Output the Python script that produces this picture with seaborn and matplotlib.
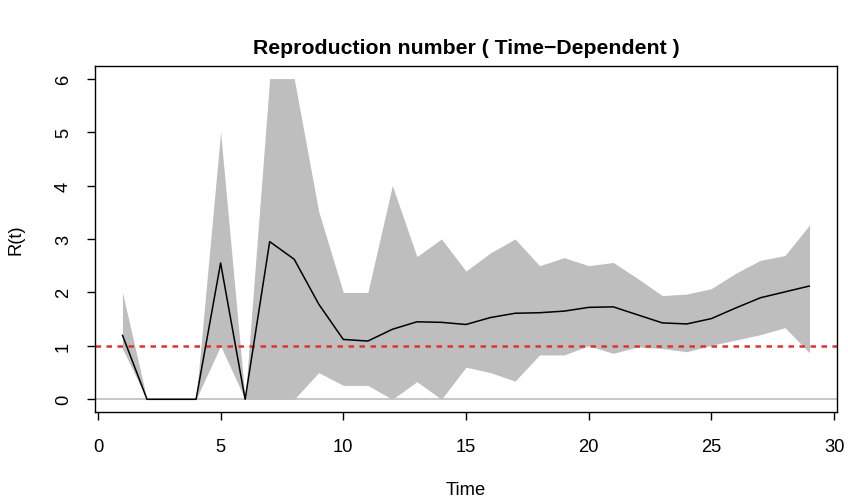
import pandas as pd
import seaborn as sns
import matplotlib
matplotlib.use("Agg")
import matplotlib.pyplot as plt

time = list(range(1, 30))
r_mean = [1.20, 0.00, 0.00, 0.00, 2.55, 0.00, 2.95, 2.62, 1.78, 1.12,
          1.09, 1.31, 1.45, 1.44, 1.40, 1.53, 1.61, 1.62, 1.65, 1.72,
          1.73, 1.58, 1.43, 1.41, 1.51, 1.71, 1.90, 2.01, 2.12]
r_upper = [2.00, 0.00, 0.00, 0.00, 5.00, 0.00, 6.00, 6.00, 3.51, 2.00,
           2.00, 4.00, 2.67, 3.00, 2.40, 2.74, 3.00, 2.50, 2.65, 2.50,
           2.56, 2.26, 1.94, 1.97, 2.07, 2.36, 2.60, 2.69, 3.26]
r_lower = [0.95, 0.00, 0.00, 0.00, 1.00, 0.00, 0.00, 0.00, 0.50, 0.26,
           0.26, 0.00, 0.33, 0.00, 0.60, 0.50, 0.34, 0.83, 0.83, 1.00,
           0.86, 0.98, 0.95, 0.89, 1.01, 1.11, 1.21, 1.34, 0.87]
x_ticks = [0, 5, 10, 15, 20, 25, 30]
y_ticks = [0, 1, 2, 3, 4, 5, 6]


def main():
    df = pd.DataFrame({"Time": time, "R": r_mean, "lo": r_lower, "hi": r_upper})

    sns.set_style("white")
    plt.rcParams["font.family"] = ["Liberation Sans", "DejaVu Sans"]
    for k in ["text.color", "axes.labelcolor", "xtick.color", "ytick.color"]:
        plt.rcParams[k] = "black"

    fig = plt.figure(figsize=(8.48, 5.02), dpi=100)
    ax = fig.add_axes([0.112, 0.177, 0.875, 0.690])

    # banda di confidenza
    ax.fill_between(df["Time"], df["lo"], df["hi"], color="#bebebe", linewidth=0)
    # linea dello zero e soglia R = 1
    ax.axhline(0, color="#bebebe", linewidth=1.2)
    ax.axhline(1, color="#dd3333", linewidth=1.8, linestyle=(0, (2.2, 2.2)))

    sns.lineplot(data=df, x="Time", y="R", color="black", linewidth=1.1, ax=ax)

    ax.set_xlim(-0.12, 30.12)
    ax.set_ylim(-0.24, 6.24)
    ax.set_xticks(x_ticks)
    ax.set_yticks(y_ticks)
    ax.set_yticklabels([str(v) for v in y_ticks], rotation=90, va="center")

    ax.tick_params(axis="both", direction="out", length=6, width=1, color="black",
                   labelcolor="black", labelsize=13.2, left=True, bottom=True)
    ax.tick_params(axis="x", pad=12.5)
    ax.tick_params(axis="y", pad=10.5)
    for s in ax.spines.values():
        s.set_visible(True)
        s.set_color("black")
        s.set_linewidth(1)

    ax.set_xlabel("Time", fontsize=13.2, labelpad=19)
    ax.set_ylabel("R(t)", fontsize=13.2, labelpad=22)
    ax.set_title("Reproduction number ( Time\u2212Dependent )", fontsize=15.3,
                 fontweight="bold", pad=9.3)
    ax.grid(False)

    fig.savefig("out.png", dpi=100)
    plt.close(fig)


if __name__ == "__main__":
    main()
